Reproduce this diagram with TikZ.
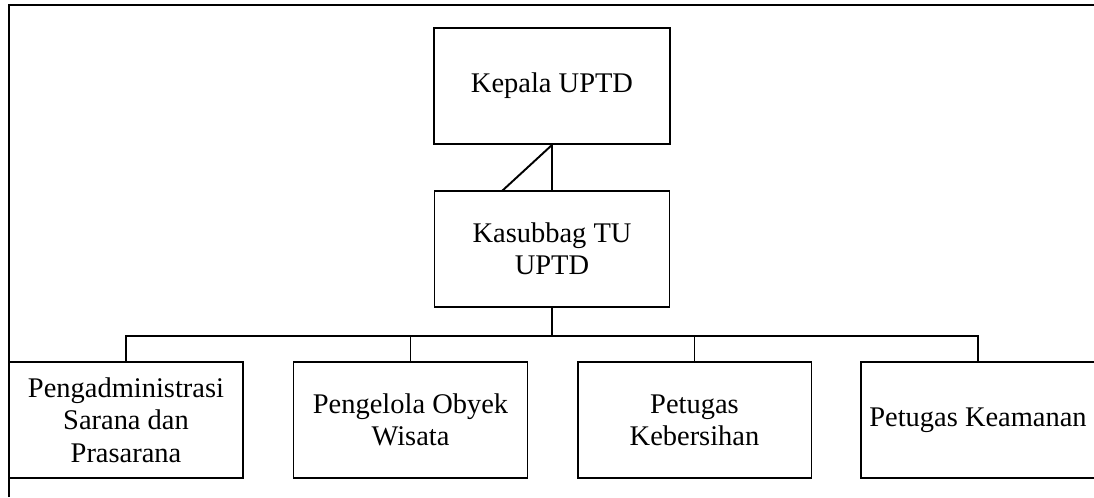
\documentclass[tikz,border=0pt]{standalone}
\usepackage{fontspec}
\setmainfont{Liberation Serif}
\usetikzlibrary{positioning}
\tikzset{unit/.style={draw, line width=1.1pt, minimum width=4.68cm, minimum height=2.32cm, inner sep=0pt, align=center, font=\fontsize{16.2}{18.4}\selectfont}}

\begin{document}
\begin{tikzpicture}[x=0.02cm, y=0.02cm]
			%%%%% START %%%%%
			
			\useasboundingbox (0, 0) rectangle (1094, 497);
			\clip (0, 0) rectangle (1094, 497);
			
			\draw[line width=1pt] (9, 0) -- (9, 492) -- (1094, 492);
			
			\node[unit, minimum width=4.72cm] (kepala) at (552, 411) {Kepala UPTD};
			\node[unit, minimum width=4.70cm] (kasubbag) at (552, 248) {Kasubbag TU\\UPTD};
			
			\node[unit] (sarana) at (126, 77) {Pengadministrasi\\Sarana dan\\Prasarana};
			\node[unit] (obyek) at (410.5, 77) {Pengelola Obyek\\Wisata};
			\node[unit] (bersih) at (694.5, 77) {Petugas\\Kebersihan};
			\node[unit] (aman) at (978, 77) {Petugas Keamanan};
			
			\coordinate (diag) at (502, 306);
			\coordinate (bus) at (552, 161);
			
			\draw[line width=1.1pt] (kepala.south) -- (kasubbag.north);
			\draw[line width=1.1pt] (kepala.south) -- (diag);
			\draw[line width=1.1pt] (kasubbag.south) -- (bus);
			\draw[line width=1.1pt] (sarana.north) |- (bus) -| (aman.north);
			\draw[line width=1.1pt] (obyek.north) -- (obyek.north |- bus);
			\draw[line width=1.1pt] (bersih.north) -- (bersih.north |- bus);
			
			%%%%% END %%%%%
\end{tikzpicture}
\end{document}
